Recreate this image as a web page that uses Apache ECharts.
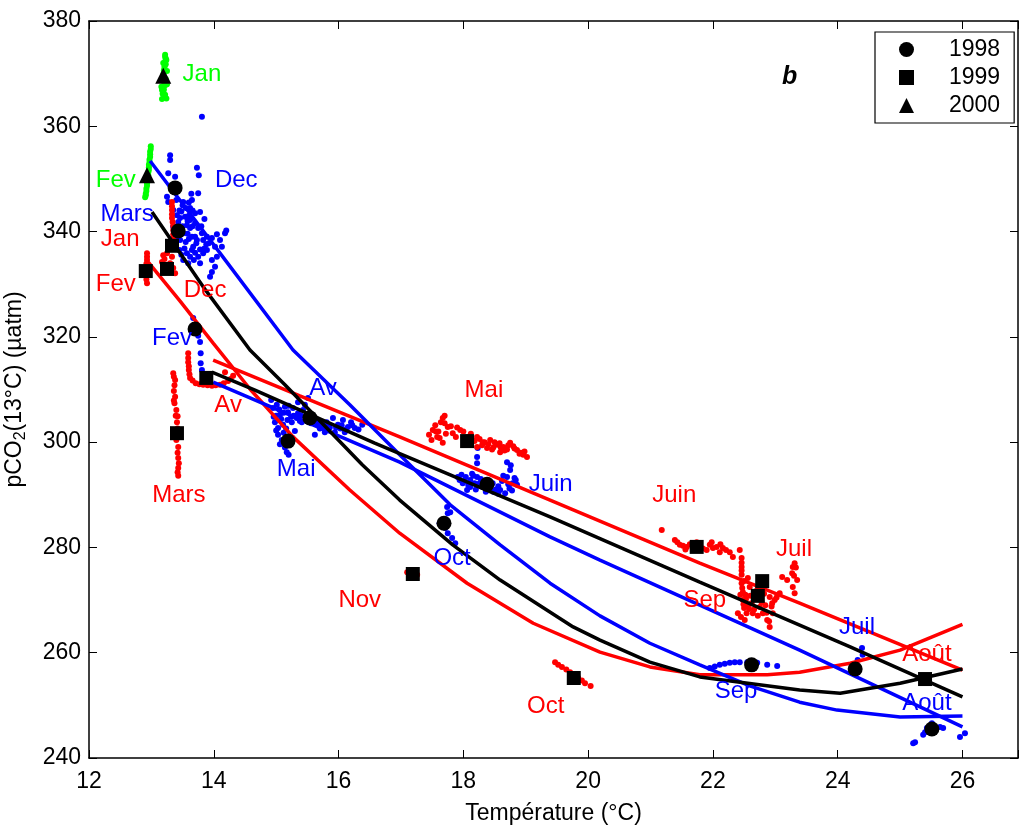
<!DOCTYPE html>
<html>
<head>
<meta charset="utf-8">
<script src="https://cdn.jsdelivr.net/npm/echarts@6/dist/echarts.min.js"></script>
<style>html,body{margin:0;padding:0;background:#fff}#c{width:1019px;height:825px}</style>
</head>
<body>
<div id="c"></div>
<script>
// ---------- DATA ----------
const xTickValues = [12, 14, 16, 18, 20, 22, 24, 26];
const yTickValues = [240, 260, 280, 300, 320, 340, 360, 380];

// monthly means (black markers)
const means1998 = [[13.38,348.3],[13.43,340.1],[13.70,321.5],[15.19,300.2],[15.54,304.6],[17.69,284.6],[18.38,292.0],[22.62,257.7],[24.28,256.9],[25.51,245.5]];
const means1999 = [[12.91,332.5],[13.25,332.9],[13.33,337.3],[13.41,301.7],[13.88,312.2],[18.06,300.2],[17.19,274.95],[19.77,255.2],[21.74,280.1],[22.79,273.6],[22.72,270.8],[25.40,255.0]];
const means2000 = [[13.19,369.6],[12.93,350.7]];

// raw measurements 2000 (green)
const green2000 = [[13.22,373.2],[13.24,372.6],[13.23,371.8],[13.21,371.0],[13.20,370.2],[13.19,369.4],[13.20,368.6],[13.22,367.8],[13.20,367.0],[13.18,366.2],[13.21,365.6],[13.17,365.2],[13.24,365.3],[13.23,369.0],[13.19,372.0],[13.16,367.5],[13.25,370.5],[13.22,373.6],
  [13.23,372.9],[13.22,372.3],[13.21,371.4],[13.20,370.6],[13.19,369.8],[13.21,368.2],[13.19,366.6],[13.22,366.0],[13.17,366.9],[13.25,368.0],
  [12.99,356.2],[12.98,355.2],[12.98,354.2],[12.97,353.2],[12.96,352.2],[12.95,351.2],[12.94,350.2],[12.93,349.2],[12.92,348.2],[12.91,347.2],[12.90,346.5],[12.99,355.7],[12.96,352.7],[12.93,348.7],
  [12.98,354.7],[12.97,353.7],[12.96,351.7],[12.95,350.7],[12.94,349.7],[12.92,347.7],[12.91,346.9]];

// raw measurements 1998 (blue)
const blue1998 = [
  [13.30,354.5],[13.30,353.6],[13.27,351.1],[13.38,350.4],[13.73,352.1],[13.76,350.7],[13.75,347.3],[13.65,346.0],[13.25,346.6],[13.27,345.6],[13.51,345.6],[13.62,344.5],[13.78,343.7],[13.35,344.1],[13.41,343.1],[13.46,342.6],[13.54,342.8],[13.62,342.2],[13.70,341.6],[13.75,340.7],[13.81,339.7],[13.62,340.7],[13.65,339.0],[13.73,338.4],[13.83,338.4],[13.89,339.0],[13.97,338.8],[14.10,338.4],[14.18,339.7],[14.13,337.1],[14.02,337.1],[13.67,337.1],[13.57,335.9],[13.62,335.2],[13.75,335.2],[13.83,335.9],[13.89,336.5],[13.51,334.6],[13.59,334.0],[13.78,334.0],[13.97,334.6],[14.05,335.2],[14.02,333.3],[13.97,332.3],[13.94,331.4],[13.46,338.4],[13.51,339.7],[13.35,340.9],[13.57,341.2],[13.81,361.8],
  [13.40,346.0],[13.45,344.0],[13.55,344.5],[13.60,343.0],[13.70,343.5],[13.50,341.0],[13.40,339.0],[13.55,338.0],[13.65,336.5],[13.70,339.0],[13.80,341.0],[13.60,345.5],[13.85,336.8],[13.45,336.5],[14.05,339.5],[14.20,340.2],
  [13.48,343.8],[13.58,342.0],[13.66,341.0],[13.72,337.8],[13.60,338.6],[13.53,336.8],[13.68,334.6],[13.88,337.6],[13.43,341.8],[13.85,342.4],
  [13.50,345.0],[13.66,344.0],[13.58,339.6],[13.78,336.6],[13.92,337.8],[13.48,335.6],[13.70,336.0],[13.64,347.2],
  [13.67,323.6],[13.71,322.1],[13.75,320.2],[13.78,319.0],[13.79,316.9],[13.79,315.0],[13.81,313.7],
  [14.95,306.5],[15.01,307.1],[15.06,305.2],[15.14,306.7],[15.19,305.7],[15.27,306.5],[15.35,305.5],[15.43,306.1],[14.98,303.8],[15.03,302.7],[15.11,303.3],[15.25,303.8],[15.33,304.6],[15.03,301.4],[15.09,300.4],[15.22,299.5],[15.17,298.1],[15.30,302.1],[15.41,303.8],[15.51,305.2],[15.65,304.2],[15.62,301.4],[15.73,303.3],[15.81,303.8],[15.91,304.6],[15.99,303.3],[16.07,304.2],[16.15,302.9],[16.26,302.7],[16.38,303.3],[15.94,301.9],[16.10,301.9],[15.78,301.9],[15.35,307.6],[15.51,308.4],[15.46,307.1],[14.92,308.0],
  [15.00,305.0],[15.08,304.4],[15.16,302.6],[15.12,301.8],[15.22,301.2],[15.28,305.0],[15.38,304.0],[15.56,303.6],[15.70,302.6],[15.86,302.8],[16.03,302.6],[16.20,303.8],[15.20,297.6],
  [14.96,304.8],[15.05,306.2],[15.12,305.6],[15.20,306.9],[15.24,304.8],[15.40,305.0],[15.48,304.6],[15.58,304.8],[15.66,303.4],[15.76,302.8],[15.84,303.0],[15.96,302.8],[16.05,303.2],[16.12,302.4],[16.22,303.2],[16.32,302.4],[15.06,299.6],[15.14,299.0],[15.26,300.8],[15.00,302.2],[15.18,304.2],
  [17.91,293.4],[17.99,292.2],[18.11,292.8],[18.22,293.4],[18.31,291.5],[18.47,292.2],[18.59,290.9],[18.70,293.4],[18.75,294.7],[18.79,292.2],[18.67,290.3],[18.43,290.9],[18.06,290.9],[18.22,296.0],[18.22,297.2],[18.23,298.9],[18.70,296.2],[18.86,291.9],[17.97,293.8],[18.11,291.5],
  [18.02,292.6],[18.16,293.6],[18.26,292.2],[18.52,291.0],[18.62,292.6],[18.74,291.2],[18.82,293.2],[18.36,290.6],
  [17.94,292.8],[18.04,293.4],[18.08,291.8],[18.18,292.2],[18.28,293.0],[18.34,292.4],[18.40,291.6],[18.48,290.6],[18.56,291.6],[18.64,293.6],[18.72,292.0],[18.78,290.8],[18.84,292.8],[18.56,290.2],[18.20,291.0],[18.14,294.0],[18.76,295.6],
  [17.74,287.7],[17.75,286.5],[17.67,285.2],[17.62,284.6],[17.71,283.7],[17.75,282.7],[17.82,281.8],[17.87,280.8],[17.79,286.7],
  [21.95,257.1],[22.11,257.7],[22.27,258.1],[22.43,258.2],[22.55,258.2],[22.71,258.1],[22.87,257.7],[23.03,257.5],[22.03,257.4],[22.19,257.9],[22.35,258.2],
  [24.39,260.9],[24.40,259.6],[24.32,258.6],
  [25.43,245.7],[25.40,244.9],[25.37,244.4],[25.24,243.0],[25.21,242.8],[25.64,245.9],[25.69,245.7],[25.96,244.0],[26.04,244.7],[25.51,246.6]
];

// raw measurements 1999 (red)
const red1999 = [
  [13.33,345.6],[13.33,344.1],[13.33,342.6],[13.35,341.1],[13.35,339.5],[13.35,338.0],[13.19,335.5],[13.25,335.9],[13.33,335.2],[13.30,334.0],[13.35,333.1],[13.38,332.1],[13.22,333.6],[13.30,332.3],[13.17,334.2],
  [13.33,344.8],[13.33,343.3],[13.34,341.8],[13.35,340.3],[13.35,338.7],[13.21,334.8],[13.28,333.2],
  [12.93,335.9],[12.93,334.6],[12.91,333.1],[12.91,331.6],[12.93,330.2],[12.93,335.2],[12.92,333.9],[12.92,332.3],[12.92,330.9],
  [13.35,313.1],[13.37,310.8],[13.38,308.6],[13.40,306.1],[13.41,303.8],[13.41,301.4],[13.43,299.1],[13.43,297.0],[13.43,295.1],[13.43,293.6],[13.38,311.8],[13.40,300.4],[13.36,309.7],[13.42,304.9],
  [13.36,312.4],[13.37,307.4],[13.39,305.0],[13.42,302.6],[13.42,298.0],[13.44,296.0],[13.42,294.3],[13.36,307.9],
  [13.59,316.9],[13.59,315.2],[13.60,313.7],[13.62,312.2],[13.71,311.2],[13.83,310.9],[13.97,310.7],[14.10,310.9],[14.23,311.6],[14.31,312.6],[14.18,313.3],
  [13.59,316.0],[13.60,314.4],[13.61,312.9],[13.66,311.7],[13.77,311.0],[13.90,310.8],[14.03,310.8],[14.16,311.2],[14.27,312.0],
  [17.51,302.3],[17.49,300.4],[17.62,300.8],[17.67,304.6],[17.75,302.9],[17.83,301.7],[17.95,302.3],[18.06,301.0],[18.22,301.0],[18.31,300.0],[18.43,300.4],[18.54,299.5],[18.64,299.1],[18.75,299.9],[18.86,298.5],[18.96,297.6],[19.02,297.2],[18.59,298.1],[18.38,298.9],[18.22,299.1],[17.67,299.9],[17.58,301.0],
  [17.70,303.6],[17.88,301.0],[18.14,300.4],[18.30,299.4],[18.48,299.0],[18.70,298.6],[18.80,299.2],[18.92,298.0],[18.12,301.6],[17.56,302.0],
  [17.55,303.2],[17.60,302.0],[17.72,301.6],[17.80,303.0],[17.90,302.8],[18.00,302.0],[18.02,300.2],[18.10,299.8],[18.18,300.2],[18.26,300.6],[18.34,300.0],[18.40,299.6],[18.50,300.0],[18.58,299.8],[18.66,298.4],[18.72,299.4],[18.82,298.8],[18.90,297.8],[18.98,298.2],[17.45,301.4],[17.64,303.8],[17.70,305.0],[18.46,298.6],[18.60,299.0],
  [17.10,275.3],[17.26,274.8],
  [19.47,258.2],[19.58,257.3],[19.71,256.3],[19.84,255.2],[19.95,254.2],[20.04,253.7],[19.52,257.7],[19.65,256.8],[19.90,254.7],
  [21.18,283.3],[21.39,281.4],[21.47,280.5],[21.58,280.1],[21.79,280.5],[21.95,280.5],[22.06,280.1],[22.16,279.9],[22.27,279.1],[22.32,278.2],[22.11,279.1],[21.90,279.5],[21.68,279.9],[22.43,279.5],
  [21.43,281.0],[21.52,280.3],[21.63,280.6],[21.84,279.8],[22.00,279.9],[22.21,279.5],[21.74,281.0],[21.98,281.0],[22.12,280.6],[21.56,279.6],
  [22.46,278.0],[22.46,276.3],[22.46,274.8],[22.46,273.2],[22.48,271.5],[22.48,270.0],[22.50,268.5],[22.54,267.5],[22.62,269.4],[22.64,267.5],[22.75,268.7],[22.80,267.5],[22.87,266.2],[22.91,264.9],[22.96,267.5],[22.99,270.0],[23.07,271.3],[22.91,270.6],[22.71,271.9],[22.59,272.5],[22.56,274.2],[22.40,267.5],[22.51,266.2],
  [22.46,277.1],[22.46,275.6],[22.47,272.3],[22.49,269.2],[22.52,271.0],[22.58,268.3],[22.68,270.4],[22.84,269.0],[22.94,268.8],[22.45,266.8],
  [22.44,271.0],[22.50,273.6],[22.53,270.2],[22.57,269.0],[22.66,268.2],[22.72,267.0],[22.78,269.6],[22.86,267.6],[22.90,266.0],[22.95,269.4],[23.02,270.5],[22.60,270.8],[22.82,271.2],
  [23.11,274.4],[23.19,273.8],[23.27,275.1],[23.28,276.3],[23.35,273.8],[23.31,271.3],[23.28,272.5],[23.31,277.0],[23.30,274.6],[23.33,276.2]
];

// fitted curves
const redCurveA = [[12.95,334.2],[13.46,326.8],[13.99,318.8],[14.58,310.1],[15.27,301.0],[16.18,290.9],[16.98,282.7],[18.06,273.2],[19.12,265.6],[20.19,260.1],[20.99,257.3],[21.79,255.8],[22.87,255.8],[23.39,256.3],[24.20,258.0],[25.00,260.5],[26.00,265.4]];
const redCurveB = [[13.99,315.6],[15.38,308.8],[16.98,301.0],[19.39,289.0],[21.79,277.0],[23.39,269.4],[26.00,256.7]];
const blackCurveA = [[13.01,343.7],[13.83,329.5],[14.58,317.5],[15.14,310.9],[16.38,295.7],[16.98,289.0],[17.83,280.5],[18.59,273.8],[19.76,264.9],[20.19,262.4],[20.99,258.2],[21.79,255.4],[23.39,252.9],[24.04,252.3],[25.00,254.2],[26.00,256.9]];
const blackCurveB = [[13.97,313.3],[14.66,309.9],[16.58,299.8],[19.39,285.8],[21.79,273.4],[24.20,261.1],[26.00,251.6]];
const blueCurveA = [[12.98,353.4],[14.10,335.9],[15.27,317.5],[16.18,307.1],[16.98,297.6],[17.79,288.1],[18.59,280.5],[19.39,273.2],[20.19,267.0],[20.99,261.8],[21.79,257.7],[22.59,253.7],[23.39,250.6],[23.99,249.1],[25.00,247.8],[26.00,248.0]];
const blueCurveB = [[13.99,311.4],[14.58,308.4],[16.98,296.2],[19.39,282.0],[20.19,277.6],[23.39,260.5],[26.00,245.9]];

// month labels [x, y, text]
const greenLabels = [[13.81,369.9,'Jan'],[12.43,349.8,'Fev']];
const blueLabels = [[14.36,349.8,'Dec'],[12.61,343.3,'Mars'],[13.33,319.8,'Fev'],[15.75,310.3,'Av'],[15.32,294.9,'Mai'],[19.40,291.9,'Juin'],[17.82,278.0,'Oct'],[22.37,252.7,'Sep'],[24.31,264.9,'Juil'],[25.43,250.4,'Août']];
const redLabels = [[12.50,338.6,'Jan'],[12.43,330.0,'Fev'],[13.86,328.9,'Dec'],[14.23,306.9,'Av'],[13.44,289.8,'Mars'],[18.33,309.9,'Mai'],[21.38,289.8,'Juin'],[23.30,279.7,'Juil'],[21.87,270.0,'Sep'],[16.34,270.0,'Nov'],[19.32,249.9,'Oct'],[25.43,259.6,'Août']];

// ---------- CHART ----------
const FONT = '"Liberation Sans", Arial, sans-serif';
const chart = echarts.init(document.getElementById('c'), null, {renderer: 'canvas'});

function dots(name, data, color) {
  return {name, type: 'scatter', data, symbol: 'circle', symbolSize: 6, itemStyle: {color, opacity: 1}, z: 2, silent: true};
}
function curve(name, data, color) {
  return {name, type: 'line', data, showSymbol: false, symbol: 'none', lineStyle: {color, width: 3.5, opacity: 1}, z: 3, silent: true};
}
function labels(name, data, color) {
  return {name, type: 'scatter', data: data.map(d => ({value: [d[0], d[1]], name: d[2]})), symbolSize: 0,
    itemStyle: {opacity: 1, color},
    label: {show: true, position: 'inside', formatter: p => p.name, color, opacity: 1, fontSize: 24, fontFamily: FONT}, z: 6, silent: true};
}
function means(name, data, symbol, size) {
  return {name, type: 'scatter', data, symbol, symbolSize: size, itemStyle: {color: '#000', opacity: 1}, z: 5, silent: true};
}

const axisCommon = {
  type: 'value', splitLine: {show: false},
  axisLine: {show: true, onZero: false, lineStyle: {color: '#000', width: 1.5}},
  axisTick: {show: true, inside: true, length: 8, lineStyle: {color: '#000', width: 1}},
};

chart.setOption({
  animation: false,
  backgroundColor: '#fff',
  grid: {left: 89, right: 1, top: 21, bottom: 67, containLabel: false, outerBoundsMode: 'none'},
  title: {text: 'b', left: 777, top: 60, textStyle: {fontSize: 25, fontStyle: 'italic', fontWeight: 'bold', fontFamily: FONT, color: '#000'}},
  legend: {
    data: ['1998', '1999', '2000'], orient: 'vertical', left: 875, top: 32,
    padding: [5, 14, 5, 24], itemGap: 3, itemWidth: 15, itemHeight: 15,
    backgroundColor: '#fff', borderColor: '#000', borderWidth: 1.2, borderRadius: 0,
    selectedMode: false,
    itemStyle: {opacity: 1},
    textStyle: {fontSize: 23, color: '#000', fontFamily: FONT, padding: [0, 0, 0, 30], lineHeight: 25}
  },
  xAxis: [
    Object.assign({}, axisCommon, {position: 'bottom', min: 12, max: 26.89, interval: 2,
      axisLabel: {fontSize: 23, color: '#000', fontFamily: FONT, margin: 12, formatter: v => xTickValues.includes(v) ? String(v) : ''},
      name: 'Température (°C)', nameLocation: 'middle', nameGap: 44,
      nameTextStyle: {fontSize: 23, color: '#000', fontFamily: FONT}}),
    Object.assign({}, axisCommon, {position: 'top', min: 12, max: 26.89, interval: 2, axisLabel: {show: false}})
  ],
  yAxis: [
    Object.assign({}, axisCommon, {position: 'left', min: 240, max: 380, interval: 20,
      axisLabel: {fontSize: 23, color: '#000', fontFamily: FONT, margin: 8, formatter: v => yTickValues.includes(v) ? String(v) : ''},
      name: '{a|pCO}{s|2}{a|(13°C) (µatm)}', nameLocation: 'middle', nameGap: 60, nameRotate: 90,
      nameTextStyle: {rich: {a: {fontSize: 23, color: '#000', fontFamily: FONT}, s: {fontSize: 16, color: '#000', fontFamily: FONT, padding: [12, 0, 0, 0]}}}}),
    Object.assign({}, axisCommon, {position: 'right', min: 240, max: 380, interval: 20, axisLabel: {show: false}})
  ],
  series: [
    dots('g2000', green2000, '#00ff00'),
    dots('b1998', blue1998, '#0000ff'),
    dots('r1999', red1999, '#ff0000'),
    curve('redA', redCurveA, '#ff0000'),
    curve('redB', redCurveB, '#ff0000'),
    curve('blueA', blueCurveA, '#0000ff'),
    curve('blueB', blueCurveB, '#0000ff'),
    curve('blackA', blackCurveA, '#000000'),
    curve('blackB', blackCurveB, '#000000'),
    means('1998', means1998, 'circle', 15),
    means('1999', means1999, 'rect', 14),
    means('2000', means2000, 'triangle', 16),
    labels('lg', greenLabels, '#00ff00'),
    labels('lb', blueLabels, '#0000ff'),
    labels('lr', redLabels, '#ff0000')
  ]
});
</script>
</body>
</html>
